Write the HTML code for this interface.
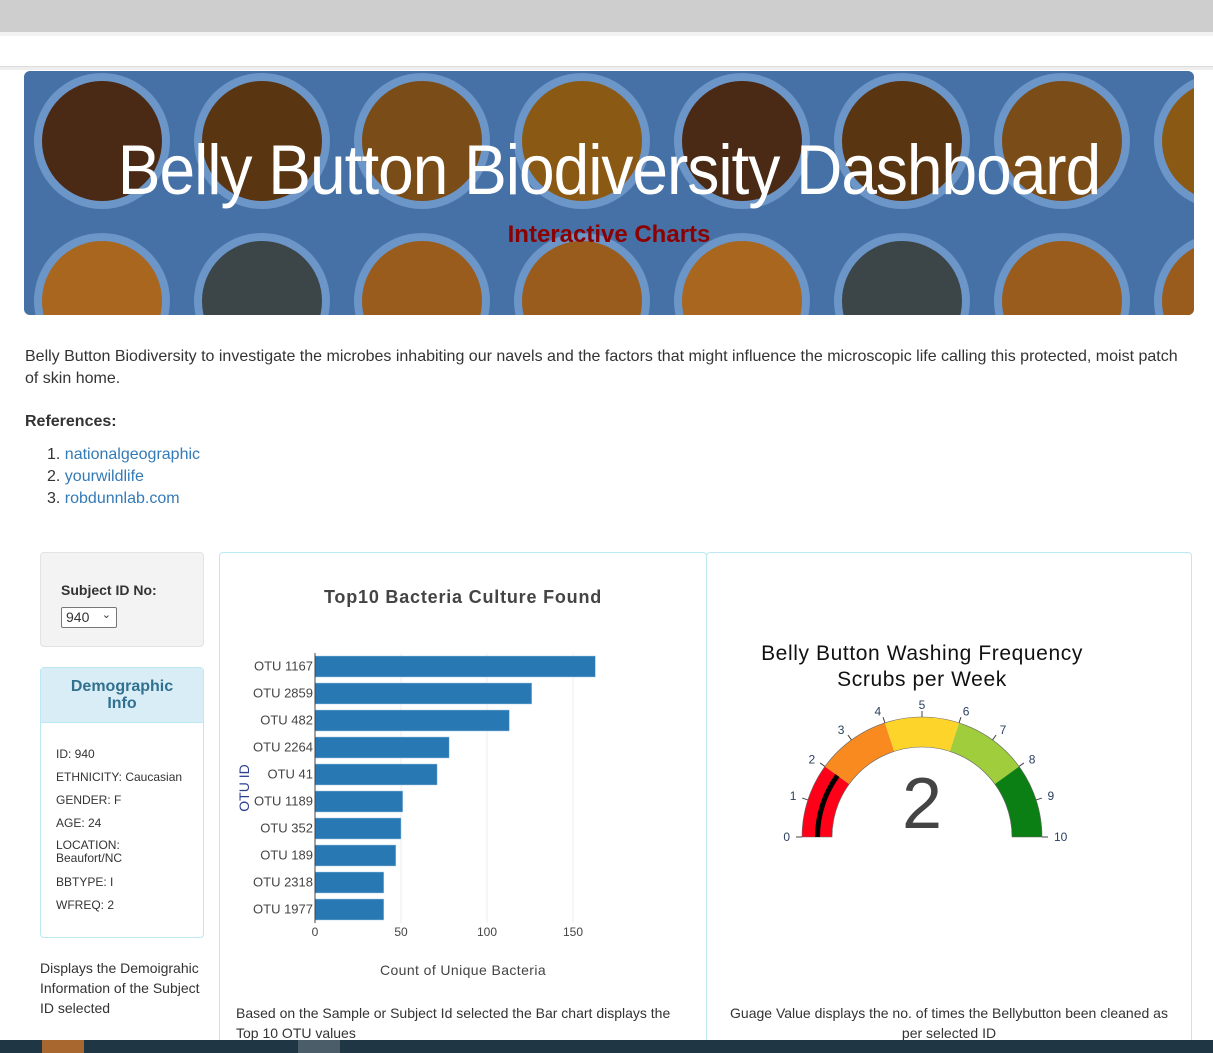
<!DOCTYPE html>
<html><head><meta charset="utf-8">
<style>
*{box-sizing:border-box}
html,body{margin:0;width:1213px;height:1053px;overflow:hidden}
body{background:#fff;font-family:"Liberation Sans",Arial,sans-serif;color:#333;position:relative}
.abs{position:absolute}
a{color:#337ab7;text-decoration:none}
</style></head><body>
<div class="abs" style="left:0;top:0;width:1213px;height:32px;background:#cecece"></div>
<div class="abs" style="left:0;top:32px;width:1213px;height:4px;background:#f2f2f2"></div>
<div class="abs" style="left:0;top:66px;width:1213px;height:4px;background:#eee;border-top:1px solid #ddd"></div>

<div class="abs" style="left:24px;top:71px;width:1170px;height:244px;border-radius:6px;overflow:hidden;background:#4571a6">
<svg width="1170" height="244" id="dishes"></svg>
<div class="abs" style="left:0;top:62px;width:1170px;text-align:center;color:#fff;font-size:64px;letter-spacing:-1px;transform:scaleY(1.1)">Belly Button Biodiversity Dashboard</div>
<div class="abs" style="left:0;top:150px;width:1170px;text-align:center;color:#8b0000;font-size:24px;font-weight:bold">Interactive Charts</div>
</div>

<div class="abs" style="left:25px;top:346px;width:1170px;font-size:16px;line-height:22px">Belly Button Biodiversity to investigate the microbes inhabiting our navels and the factors that might influence the microscopic life calling this protected, moist patch of skin home.</div>
<div class="abs" style="left:25px;top:413px;font-size:16px;font-weight:bold">References:</div>
<div class="abs" style="left:47px;top:444px;font-size:16px;line-height:22px">
<div>1. <a href="#">nationalgeographic</a></div>
<div>2. <a href="#">yourwildlife</a></div>
<div>3. <a href="#">robdunnlab.com</a></div>
</div>

<div class="abs" style="left:40px;top:552px;width:164px;height:95px;background:#f3f3f3;border:1px solid #e3e3e3;border-radius:4px">
<div class="abs" style="left:20px;top:29px;font-size:14px;font-weight:bold">Subject ID No:</div>
<div class="abs" style="left:20px;top:54px;width:56px;height:21px;border:1px solid #777;border-radius:2px;background:#fff;font-size:14px;padding:1px 4px">940 <span style="position:absolute;right:5px;top:0;font-size:11px">&#8964;</span></div>
</div>

<div class="abs" style="left:40px;top:667px;width:164px;height:271px;border:1px solid #bce8f1;border-radius:4px">
<div class="abs" style="left:0;top:0;width:162px;height:55px;background:#d9edf7;border-bottom:1px solid #bce8f1;color:#31708f;font-size:16px;font-weight:bold;text-align:center;line-height:17px;padding-top:10px">Demographic<br>Info</div>
<div class="abs" style="left:15px;top:75px;font-size:12px;line-height:23px">
<div>ID: 940</div><div>ETHNICITY: Caucasian</div><div>GENDER: F</div><div>AGE: 24</div><div style="line-height:13px;margin:4px 0 6px">LOCATION:<br>Beaufort/NC</div><div>BBTYPE: I</div><div>WFREQ: 2</div>
</div>
</div>
<div class="abs" style="left:40px;top:958px;width:170px;font-size:14px;line-height:20px">Displays the Demoigrahic Information of the Subject ID selected</div>

<div class="abs" style="left:219px;top:552px;width:488px;height:520px;border:1px solid #bce8f1;border-radius:4px"></div>
<div class="abs" style="left:706px;top:552px;width:486px;height:520px;border:1px solid #bce8f1;border-radius:4px"></div>

<svg class="abs" style="left:220px;top:553px" width="486" height="440" id="bar"></svg>
<div class="abs" style="left:236px;top:1003px;width:460px;font-size:14px;line-height:20px">Based on the Sample or Subject Id selected the Bar chart displays the Top 10 OTU values</div>

<svg class="abs" style="left:707px;top:553px" width="484" height="440" id="gauge"></svg>
<div class="abs" style="left:724px;top:1003px;width:450px;font-size:14px;line-height:20px;text-align:center">Guage Value displays the no. of times the Bellybutton been cleaned as per selected ID</div>

<div class="abs" style="left:0;top:1040px;width:1213px;height:13px;background:#1f3744">
<div class="abs" style="left:42px;top:0;width:42px;height:13px;background:#a8672e"></div>
<div class="abs" style="left:298px;top:0;width:42px;height:13px;background:#4a5d68"></div>
</div>

<script>
const NS='http://www.w3.org/2000/svg';
function mk(p,t,a){const e=document.createElementNS(NS,t);for(const k in a)e.setAttribute(k,a[k]);p.appendChild(e);return e;}
const ds=document.getElementById('dishes');
const dishColors=['#4a2a14','#5a3512','#7a4c18','#8a5a14','#4a2a14','#5a3512','#7a4c18','#8a5a14'];
const dishColors2=['#a8661e','#3c4548','#9a5c1c','#9a5c1c','#a8661e','#3c4548','#9a5c1c','#9a5c1c'];
for(let i=0;i<8;i++){
 const cx=78+i*160;
 const g=mk(ds,'circle',{cx:cx,cy:70,r:68,fill:'#6c95c8'});
 
 mk(ds,'circle',{cx:cx,cy:70,r:60,fill:dishColors[i]});
 const g2=mk(ds,'circle',{cx:cx,cy:230,r:68,fill:'#6c95c8'});
 
 mk(ds,'circle',{cx:cx,cy:230,r:60,fill:dishColors2[i]});
}

const labels=['OTU 1167','OTU 2859','OTU 482','OTU 2264','OTU 41','OTU 1189','OTU 352','OTU 189','OTU 2318','OTU 1977'];
const values=[163,126,113,78,71,51,50,47,40,40];
const xTicks=[0,50,100,150];
const bar=document.getElementById('bar');
const x0=95,pxPer=1.72,y0=100,rowH=27;
const xs=v=>x0+v*pxPer;
const t=mk(bar,'text',{x:243,y:50,'text-anchor':'middle','font-size':18,'font-weight':'bold',fill:'#444','letter-spacing':'0.8'});
t.textContent='Top10 Bacteria Culture Found';

xTicks.forEach(v=>{
 if(v>0){const l=mk(bar,'line',{x1:xs(v),x2:xs(v),y1:y0,y2:y0+rowH*labels.length,stroke:'#eee'});}
 const tx=mk(bar,'text',{x:xs(v),y:383,'text-anchor':'middle','font-size':12,fill:'#444'});
 tx.textContent=v;
});
labels.forEach((lab,i)=>{
 const cy=y0+rowH*i+rowH/2;
 const r=mk(bar,'rect',{x:x0,y:cy-10.5,width:values[i]*pxPer,height:21,fill:'#2878b3',stroke:'#a9cbe6','stroke-width':0.5});
 
 const tx=mk(bar,'text',{x:x0-2,y:cy+4,'text-anchor':'end','font-size':13,fill:'#444'});
 tx.textContent=lab;
});
const ax=mk(bar,'line',{x1:x0,x2:x0,y1:y0,y2:y0+rowH*labels.length,stroke:'#444','stroke-width':1});

const yt=mk(bar,'text',{x:0,y:0,'text-anchor':'middle','font-size':14,fill:'#2a3f8f',transform:'translate(29,235) rotate(-90)'});
yt.textContent='OTU ID';
const xt=mk(bar,'text',{x:243,y:422,'text-anchor':'middle','font-size':14,fill:'#444','letter-spacing':'0.4'});
xt.textContent='Count of Unique Bacteria';

const gaugeValue=2;
const gaugeSteps=[0,2,4,6,8,10];
const stepColors=['#ff0018','#f98a20','#fdd52a','#9fcd3c','#0b7f13'];
const gaugeTicks=[0,1,2,3,4,5,6,7,8,9,10];
const g=document.getElementById('gauge');
const cx=215,cy=284,R=120,r=90,maxV=10;
const ang=v=>Math.PI*(1-v/maxV);
const pt=(v,rad)=>[cx+rad*Math.cos(ang(v)),cy-rad*Math.sin(ang(v))];
function arc(a,b,ro,ri){
 const p1=pt(a,ro),p2=pt(b,ro),p3=pt(b,ri),p4=pt(a,ri);
 return `M${p1[0]},${p1[1]} A${ro},${ro} 0 0 1 ${p2[0]},${p2[1]} L${p3[0]},${p3[1]} A${ri},${ri} 0 0 0 ${p4[0]},${p4[1]}Z`;
}
const gt1=mk(g,'text',{x:215,y:107,'text-anchor':'middle','font-size':21,fill:'#111','letter-spacing':'0.6'});
gt1.textContent='Belly Button Washing Frequency';
const gt2=mk(g,'text',{x:215,y:133,'text-anchor':'middle','font-size':21,fill:'#111','letter-spacing':'0.6'});
gt2.textContent='Scrubs per Week';
for(let i=0;i<stepColors.length;i++){
 const p=mk(g,'path',{d:arc(gaugeSteps[i],gaugeSteps[i+1],R,r),fill:stepColors[i]});
 
}
const outline=mk(g,'path',{d:arc(0,10,R,r),fill:'none',stroke:'#666','stroke-width':0.6});

const nb=mk(g,'path',{d:arc(0,gaugeValue,107,102),fill:'#000'});

gaugeTicks.forEach(v=>{
 const a=pt(v,R),b=pt(v,R+6),c=pt(v,R+12);
 const l=mk(g,'line',{x1:a[0],y1:a[1],x2:b[0],y2:b[1],stroke:'#444'});
 
 const tx=mk(g,'text',{x:c[0],y:c[1]+4,'text-anchor':v<5?'end':(v>5?'start':'middle'),'font-size':12,fill:'#2a3f5f'});
 tx.textContent=v;
});
const nv=mk(g,'text',{x:cx,y:cy-9,'text-anchor':'middle','font-size':72,fill:'#444'});
nv.textContent=gaugeValue;
</script>
</body></html>
